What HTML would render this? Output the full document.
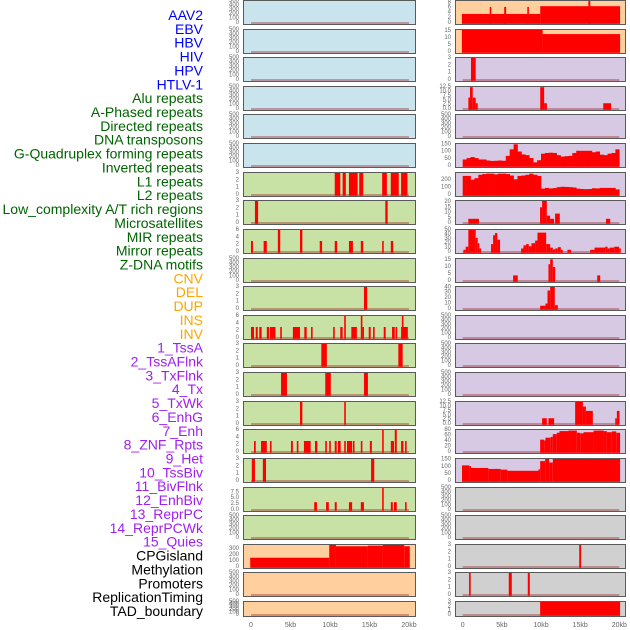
<!DOCTYPE html>
<html><head><meta charset="utf-8">
<style>
html,body{margin:0;padding:0;background:#fff;}
svg{display:block;font-family:"Liberation Sans",sans-serif;}
</style></head>
<body>
<svg id="chart" width="630" height="630" viewBox="0 0 630 630"></svg>
<script>
// ---------- data ----------
const labels = ["AAV2","EBV","HBV","HIV","HPV","HTLV-1","Alu repeats","A-Phased repeats","Directed repeats","DNA transposons","G-Quadruplex forming repeats","Inverted repeats","L1 repeats","L2 repeats","Low_complexity A/T rich regions","Microsatellites","MIR repeats","Mirror repeats","Z-DNA motifs","CNV","DEL","DUP","INS","INV","1_TssA","2_TssAFlnk","3_TxFlnk","4_Tx","5_TxWk","6_EnhG","7_Enh","8_ZNF_Rpts","9_Het","10_TssBiv","11_BivFlnk","12_EnhBiv","13_ReprPC","14_ReprPCWk","15_Quies","CPGisland","Methylation","Promoters","ReplicationTiming","TAD_boundary"];
const labelGroups = ["virus","virus","virus","virus","virus","virus","repeat","repeat","repeat","repeat","repeat","repeat","repeat","repeat","repeat","repeat","repeat","repeat","repeat","sv","sv","sv","sv","sv","state","state","state","state","state","state","state","state","state","state","state","state","state","state","state","other","other","other","other","other"];
const xTickKb = [0,5,10,15,20];
const xTickLabels = ["0","5kb","10kb","15kb","20kb"];

const ticks500 = ["0","100","200","300","400","500"];
const ticks3 = ["0","1","2","3"];
const ticks6 = ["0","2","4","6"];
const ticks75 = ["0.0","2.5","5.0","7.5"];
const ticks125 = ["0.0","2.5","5.0","7.5","10.0","12.5"];

// left column segments [startKb, endKb, value]
const alu = [[10.6,11.3,3],[11.6,12.0,3],[12.4,13.5,3],[13.7,14.2,3],[16.6,17.2,3],[17.7,18.7,3],[19.0,19.8,3]];
const aPhased = [[0.5,0.9,3],[17.0,17.3,3]];
const directed = [[0.0,0.25,3],[1.6,2.0,3],[3.4,3.7,6],[6.2,6.5,6],[8.7,9.0,3],[10.6,10.9,3],[12.4,12.9,3],[13.9,14.2,3],[16.6,16.8,3],[17.7,18.0,3]];
const gQuad = [[14.3,14.7,3]];
const inverted = [[0,0.38,3],[0.6,0.85,3],[1.05,1.35,3],[2.0,2.3,3],[2.4,3.1,3],[3.7,3.9,3],[5.3,6.2,3],[6.75,7.05,3],[7.6,7.8,3],[10.4,10.6,3],[11.3,11.6,3],[11.8,12.0,6],[12.7,13.4,3],[13.9,14.1,6],[14.1,14.25,3],[14.9,15.15,3],[15.45,15.65,3],[16.8,17.05,3],[17.85,18.2,3],[18.3,18.5,3],[19.0,19.85,3],[19.1,19.3,6]];
const l1 = [[8.9,9.6,3],[18.65,19.2,3]];
const l2 = [[3.8,4.55,3],[9.4,10.1,3],[14.3,14.8,3]];
const lowComplexity = [[6.2,6.5,3],[11.8,12.0,3]];
const microsat = [[0.38,0.6,3],[1.27,2.0,3],[2.4,2.6,3],[5.06,5.3,3],[5.8,6.0,3],[6.7,7.55,3],[8.1,8.4,3],[9.4,9.6,3],[9.9,10.1,3],[10.6,10.85,3],[11.0,11.35,3],[11.8,12.0,3],[12.15,12.8,3],[12.9,13.1,3],[13.9,14.1,3],[15.05,15.3,3],[16.6,16.8,6],[17.7,18.1,3],[18.2,18.45,6],[19.0,19.3,3],[19.5,19.7,3]];
const mir = [[0.1,0.5,3],[1.5,1.9,3],[15.2,15.6,3]];
const mirror = [[8.0,8.35,3.3],[9.5,9.85,3.3],[10.6,10.85,3.3],[12.4,12.8,3.3],[13.9,14.3,3.3],[16.6,16.8,9.5],[17.7,17.95,3.3],[18.1,18.45,3.3],[19.5,19.7,3.3]];
const cnv = [[-0.1,9.9,155],[9.9,10.75,370],[10.75,14.8,347],[14.8,16.7,357],[16.7,19.4,370],[19.4,20.1,347]];

// right column segments
const ins = [[-0.1,9.9,3.5],[3.45,3.6,6.2],[5.3,5.55,6.2],[8.25,8.45,6.2],[9.9,20.1,6.5],[16.05,16.3,9]];
const inv = [[-0.1,10.2,16],[10.2,20.1,12.8]];
const tssA = [[1.06,1.66,3]];
const tssAFlnk = [[0.72,0.93,6.5],[0.93,1.28,12.5],[1.28,1.66,6.5],[1.66,1.92,3.3],[9.9,10.4,12.5],[10.4,10.75,3.3],[17.95,18.95,3.3]];
// 0.5kb bins starting at 0
const txBins = [45,55,62,55,45,45,38,35,36,38,36,70,115,150,100,80,75,55,25,40,85,90,92,90,75,65,68,70,90,105,105,105,105,95,100,78,75,85,90,115];
const txWkBins = [255,255,205,225,270,280,285,285,275,285,285,280,260,210,255,260,270,285,270,255,85,95,88,92,105,110,108,105,100,85,80,78,80,90,88,95,95,95,95,75];
const enhG = [[0.72,2.08,4],[9.88,10.14,15],[10.14,10.74,22],[10.74,11.16,7],[11.16,11.67,4],[11.8,12.4,9],[18.3,18.84,4]];
const enh = [[0.09,0.38,5],[0.38,0.72,12],[0.72,1.66,50],[1.66,1.92,32],[1.92,2.13,20],[2.13,2.34,8],[3.62,3.88,18],[3.88,4.13,38],[4.13,4.43,43],[4.43,4.77,28],[7.46,7.76,8],[7.76,8.1,15],[8.1,8.44,18],[8.44,8.78,13],[8.78,9.25,20],[9.25,9.55,26],[9.55,10.66,44],[10.66,11.17,18],[11.17,11.51,10],[11.51,11.81,6],[11.81,12.15,8],[12.15,12.53,11],[12.53,12.79,5],[13.38,13.85,5],[16.28,16.84,5],[16.84,18.2,10],[18.2,18.5,12],[18.5,18.76,8],[18.76,19.35,10],[19.35,19.99,12],[19.99,20.1,8]];
const znf = [[6.44,7.03,4],[10.95,11.17,12],[11.17,11.51,15.5],[11.51,11.81,10],[17.18,17.56,4]];
const het = [[9.89,10.57,6],[10.57,10.83,10],[10.83,11.17,34],[11.17,11.76,41],[11.76,12.15,7]];
const reprPC = [[10.14,10.74,3.3],[10.95,11.68,3.3],[14.36,15.35,13],[15.35,15.73,10],[15.73,16.62,7.5],[19.48,19.69,3.3],[19.69,20.03,7.5]];
const reprPCWk = [[9.89,10.4,45],[10.4,10.57,42],[10.57,11.25,52],[11.25,11.51,55],[11.51,12.02,65],[12.02,12.36,70],[12.36,13.51,76],[13.51,14.58,78],[14.58,15.0,70],[15.0,15.43,68],[15.43,16.71,72],[16.71,17.99,78],[17.99,18.41,76],[18.41,19.05,72],[19.05,19.61,75],[19.61,20.1,70]];
const quies = [[-0.09,0.85,110],[0.85,0.94,105],[0.94,3.28,92],[3.28,4.86,85],[4.86,5.71,80],[5.71,9.68,72],[9.68,9.89,82],[9.89,10.53,140],[10.53,11.04,160],[11.04,11.51,130],[11.51,20.1,160]];
const promoters = [[14.88,15.13,3]];
const replTiming = [[0.81,1.02,3],[5.88,6.27,3],[8.31,8.57,3]];
const tad = [[9.89,20.1,3.2]];

// ---------- layout ----------
const COLORS = {virus:"#c9e4ec", repeat:"#c8e1a4", sv:"#ffd09e", state:"#d7c8e4", other:"#d0d0d0"};
const LABEL_COLORS = {virus:"#0000ff", repeat:"#006400", sv:"#ffa500", state:"#a020f0", other:"#000000"};

// panel definitions: [segments, bins, ticks, ymax]
const panels = [
 // left column
 [null,null,ticks500,500],[null,null,ticks500,500],[null,null,ticks500,500],[null,null,ticks500,500],[null,null,ticks500,500],[null,null,ticks500,500],
 [alu,null,ticks3,3],[aPhased,null,ticks3,3],[directed,null,ticks6,6],[null,null,ticks500,500],[gQuad,null,ticks3,3],[inverted,null,ticks6,6],
 [l1,null,ticks3,3],[l2,null,ticks3,3],[lowComplexity,null,ticks3,3],[microsat,null,ticks6,6],[mir,null,ticks3,3],[mirror,null,ticks75,9.3],
 [null,null,ticks500,500],[cnv,null,["0","100","200","300"],368],[null,null,ticks500,500],[null,null,ticks500,500],
 // right column
 [ins,null,["0","2","4","6","8"],8.5],[inv,null,["0","5","10","15"],15.7],[tssA,null,ticks3,3],[tssAFlnk,null,ticks125,12.6],[null,null,ticks500,500],
 [null,txBins,["0","50","100","150"],152],[null,txWkBins,["0","100","200"],294],[enhG,null,["0","5","10","15","20"],21],[enh,null,["0","10","20","30","40","50"],50],
 [znf,null,["0","5","10","15"],15.7],[het,null,["0","10","20","30","40"],40.5],[null,null,ticks500,500],[null,null,ticks500,500],[null,null,ticks500,500],
 [reprPC,null,ticks125,12.6],[reprPCWk,null,["0","20","40","60","80"],80],[quies,null,["0","50","100","150"],155],
 [null,null,ticks500,500],[null,null,ticks500,500],[promoters,null,ticks3,3],[replTiming,null,ticks3,3],[tad,null,ticks3,3]
];

const NS = "http://www.w3.org/2000/svg";
const svg = document.getElementById("chart");
function mk(tag, attrs, parent){ const e=document.createElementNS(NS,tag); for(const k in attrs) e.setAttribute(k,attrs[k]); (parent||svg).appendChild(e); return e; }
function slug(s){ return s.toLowerCase().replace(/[^a-z0-9]+/g,"-").replace(/^-|-$/g,""); }

const COLS = [{x0:251, pxkb:7.9, left:243, right:416},{x0:462.7, pxkb:7.83, left:455, right:626}];

// row labels
labels.forEach((lab,i)=>{
  const t = mk("text",{x:203, y:15+13.86*i, "text-anchor":"end", "dominant-baseline":"central", "font-size":"14", fill:LABEL_COLORS[labelGroups[i]]});
  t.textContent = lab;
  
  
});

panels.forEach((p,i)=>{
  const col = COLS[i<22?0:1];
  const r = i%22;
  const top = r===0 ? 0 : Math.round(r*28.62);
  const h = r===21 ? 16 : 25;
  const plotTop = top+1, plotBot = top+h-2;
  const ymax = p[3];
  const xs = kb => col.x0 + kb*col.pxkb;
  const ys = v => plotBot - Math.min(v,ymax*1.05)/ymax*(plotBot-plotTop);
  const g = mk("g",{});
  
  
  const cid = "clip"+i;
  const cp = mk("clipPath",{id:cid}, g);
  mk("rect",{x:col.left, y:top, width:col.right-col.left, height:h}, cp);
  const bg = mk("rect",{x:col.left+0.5, y:top+0.5, width:col.right-col.left-1, height:h-1, fill:COLORS[labelGroups[i]], stroke:"none"}, g);
  
  
  const marks = mk("g",{"clip-path":"url(#"+cid+")"}, g);
  const base = mk("rect",{x:xs(0), y:plotBot-0.8, width:xs(20)-xs(0), height:1.6, fill:"rgba(150,20,20,0.45)"}, marks);
  
  
  if(p[0]){
    p[0].forEach(s=>{
      const x1=xs(s[0]), x2=xs(s[1]);
      const w=Math.max(1.6,x2-x1);
      const b = mk("rect",{x:x1, y:ys(s[2]), width:w, height:plotBot-ys(s[2])+0.8, fill:"#ff0000"}, marks);
      
      
    });
  }
  if(p[1]){
    p[1].forEach((v,k)=>{
      const x1=xs(k*0.5), x2=xs((k+1)*0.5);
      const b = mk("rect",{x:x1, y:ys(v), width:x2-x1+0.3, height:plotBot-ys(v)+0.8, fill:"#ff0000"}, marks);
      
      
    });
  }
  const border = mk("rect",{x:col.left+0.5, y:top+0.5, width:col.right-col.left-1, height:h-1, fill:"none", stroke:"#5a5a5a", "stroke-width":"1"}, g);
  
  
  p[2].forEach(tl=>{
    const t = mk("text",{x:col.left-4, y:ys(parseFloat(tl)), "text-anchor":"end", "dominant-baseline":"central", "font-size":"6", fill:"#666"}, g);
    t.textContent = tl;
    
    
  });
});

// x axes
COLS.forEach((col,c)=>{
  xTickKb.forEach((kb,k)=>{
    const t = mk("text",{x:col.x0+kb*col.pxkb, y:627, "text-anchor":"middle", "font-size":"7", fill:"#666"});
    t.textContent = xTickLabels[k];
    
    
  });
});
</script>
</body></html>
